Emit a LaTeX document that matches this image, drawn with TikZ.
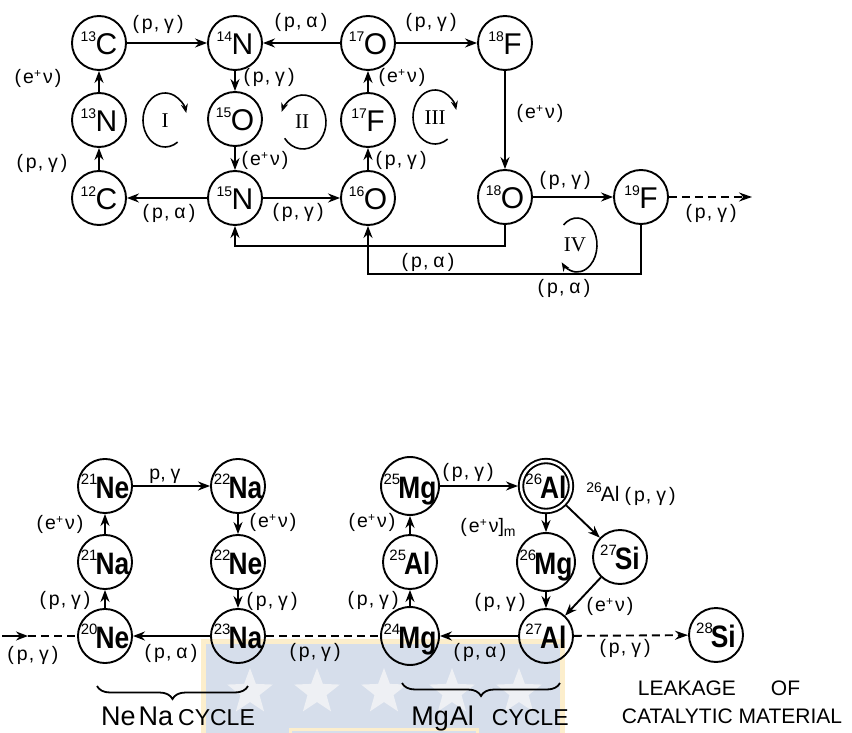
\documentclass[tikz,border=0pt]{standalone}
\usepackage{fontspec}
\setmainfont{Liberation Sans}
\newfontfamily\romfont{Liberation Serif}
\usetikzlibrary{arrows.meta,decorations.pathreplacing,shapes.geometric}
\definecolor{wmblue}{RGB}{214,222,235}
\definecolor{wmyel}{RGB}{252,238,204}
\definecolor{wmstar}{RGB}{238,240,244}
\newcommand\isoT[2]{\raisebox{13pt}{\fontsize{14}{14}\selectfont #1}\kern-0.5pt{\fontsize{30}{30}\selectfont #2}}
\newcommand\isoB[2]{\raisebox{14pt}{\fontsize{15}{15}\selectfont #1}\kern-2pt\scalebox{0.85}[1]{\fontsize{31}{31}\selectfont\bfseries #2}}
\newcommand\rPG{(\kern3pt p\kern1pt,\kern5pt γ\kern3pt)}
\newcommand\rPA{(\kern3pt p\kern1pt,\kern5pt α\kern3pt)}
\newcommand\rEN{(\kern2pt e\raisebox{6pt}{\fontsize{12}{12}\selectfont +}\kern2pt ν\kern2pt)}
\tikzset{
  nuc/.style={circle,draw,line width=1.9pt,minimum size=54pt,inner sep=0pt,text depth=0pt},
  arr/.style={line width=1.9pt,-{Stealth[length=12pt,width=9pt]}},
  dsh/.style={line width=1.9pt,dash pattern=on 8pt off 5pt},
  lab/.style={inner sep=0pt,font=\fontsize{19.5}{19.5}\selectfont},
  rom/.style={inner sep=0pt,font=\romfont\fontsize{21}{21}\selectfont},
  cyc/.style={line width=1.6pt,-{Stealth[length=9pt,width=7pt]}},
  brc/.style={line width=1.8pt,decorate,decoration={brace,amplitude=13pt,mirror}},
  big/.style={inner sep=0pt,anchor=base},
  wstar/.style={star,star points=5,star point ratio=2.4,fill=wmstar,minimum size=48pt,inner sep=0pt}
}
\begin{document}
\begin{tikzpicture}[x=1pt,y=-1pt]
\useasboundingbox (0,0) rectangle (852,733);
% watermark
\fill[wmblue] (203,641) rectangle (562,733);
\draw[wmyel,line width=5pt] (203,740) -- (203,641) -- (562,641) -- (562,740);
\draw[wmyel,line width=3pt] (290,740) -- (290,729) -- (477,729) -- (477,740);
\node[wstar] (s1) at (250,692) {};
\node[wstar] (s2) at (317,692) {};
\node[wstar] (s3) at (384,692) {};
\node[wstar] (s4) at (452,692) {};
\node[wstar] (s5) at (519,692) {};

% ---------- top: CNO cycles ----------
\node[nuc] (C13) at (99,43) {\isoT{13}{C}};
\node[nuc] (N14) at (235,43) {\isoT{14}{N}};
\node[nuc] (O17) at (368,43) {\isoT{17}{O}};
\node[nuc] (F18) at (505,43) {\isoT{18}{F}};
\node[nuc] (N13) at (99,120) {\isoT{13}{N}};
\node[nuc] (O15) at (235,119) {\isoT{15}{O}};
\node[nuc] (F17) at (368,120) {\isoT{17}{F}};
\node[nuc] (C12) at (99,198) {\isoT{12}{C}};
\node[nuc] (N15) at (235,198) {\isoT{15}{N}};
\node[nuc] (O16) at (368,198) {\isoT{16}{O}};
\node[nuc] (O18) at (505,197) {\isoT{18}{O}};
\node[nuc] (F19) at (641,197) {\isoT{19}{F}};
\coordinate (endF) at (752,197);

\draw[arr] (C13) -- (N14);
\draw[arr] (O17) -- (N14);
\draw[arr] (O17) -- (F18);
\draw[arr] (N13) -- (C13);
\draw[arr] (C12) -- (N13);
\draw[arr] (N14) -- (O15);
\draw[arr] (O15) -- (N15);
\draw[arr] (N15) -- (C12);
\draw[arr] (N15) -- (O16);
\draw[arr] (O16) -- (F17);
\draw[arr] (F17) -- (O17);
\draw[arr] (F18) -- (O18);
\draw[arr] (O18) -- (F19);
\draw[dsh,-{Stealth[length=13pt,width=9pt]}] (F19) -- (endF);
\draw[arr] (O18.south) -- ++(0,21) -| (N15.south);
\draw[arr] (F19.south) -- ++(0,49) -| (O16.south);

\node[lab] (t1) at (158,24) {\rPG};
\node[lab] (t2) at (301,22) {\rPA};
\node[lab] (t3) at (431,22) {\rPG};
\node[lab] (t4) at (38,78) {\rEN};
\node[lab] (t5) at (42,163) {\rPG};
\node[lab] (t6) at (269,77) {\rPG};
\node[lab] (t7) at (265,160) {\rEN};
\node[lab] (t8) at (169,213) {\rPA};
\node[lab] (t9) at (298,212) {\rPG};
\node[lab] (t10) at (402,77) {\rEN};
\node[lab] (t11) at (401,160) {\rPG};
\node[lab] (t12) at (540,113) {\rEN};
\node[lab] (t13) at (565,180) {\rPG};
\node[lab] (t14) at (711,213) {\rPG};
\node[lab] (t15) at (428,262) {\rPA};
\node[lab] (t16) at (564,288) {\rPA};

% cycle markers
\coordinate (cI) at (165,120);
\coordinate (cII) at (303,122);
\coordinate (cIII) at (435,117);
\coordinate (cIV) at (577,245);
\draw[cyc] ([shift={(55:22 and 27)}]cI) arc[start angle=55,end angle=345,x radius=22,y radius=27];
\draw[cyc] ([shift={(143:23 and 27)}]cII) arc[start angle=143,end angle=-158,x radius=23,y radius=27];
\draw[cyc] ([shift={(55:22 and 27)}]cIII) arc[start angle=55,end angle=345,x radius=22,y radius=27];
\draw[cyc] ([shift={(-132:20 and 27)}]cIV) arc[start angle=-132,end angle=140,x radius=20,y radius=27];
\node[rom] (rI) at (165,121) {I};
\node[rom] (rII) at (302,122) {II};
\node[rom] (rIII) at (435,118) {III};
\node[rom] (rIV) at (575,245) {IV};

% ---------- bottom: NeNa and MgAl cycles ----------
\node[nuc] (Ne21) at (105,486) {\isoB{21}{Ne}};
\node[nuc] (Na22) at (238,486) {\isoB{22}{Na}};
\node[nuc] (Na21) at (105,562) {\isoB{21}{Na}};
\node[nuc] (Ne22) at (238,562) {\isoB{22}{Ne}};
\node[nuc] (Ne20) at (105,636) {\isoB{20}{Ne}};
\node[nuc] (Na23) at (238,636) {\isoB{23}{Na}};
\node[nuc] (Mg25) at (410,486) {\isoB{25}{Mg}};
\node[nuc,double,double distance=2.5pt,minimum size=50pt,outer sep=3pt] (Al26) at (546,486) {\isoB{26}{Al}};
\node[nuc] (Al25) at (410,562) {\isoB{25}{Al}};
\node[nuc] (Mg26) at (546,562) {\isoB{26}{Mg}};
\node[nuc] (Mg24) at (410,636) {\isoB{24}{Mg}};
\node[nuc] (Al27) at (546,636) {\isoB{27}{Al}};
\node[nuc] (Si27) at (620,557) {\isoB{27}{Si}};
\node[nuc] (Si28) at (716,635) {\isoB{28}{Si}};
\coordinate (inA) at (2,636);
\coordinate (inB) at (28,636);

\draw[arr] (Ne21) -- (Na22);
\draw[arr] (Na22) -- (Ne22);
\draw[arr] (Ne22) -- (Na23);
\draw[arr] (Na23) -- (Ne20);
\draw[arr] (Ne20) -- (Na21);
\draw[arr] (Na21) -- (Ne21);
\draw[arr] (inA) -- (inB);
\draw[dsh] (inB) -- (Ne20);
\draw[dsh] (Na23) -- (Mg24);
\draw[arr] (Mg24) -- (Al25);
\draw[arr] (Al25) -- (Mg25);
\draw[arr] (Mg25) -- (Al26);
\draw[arr] (Al26) -- (Mg26);
\draw[arr] (Mg26) -- (Al27);
\draw[arr] (Al27) -- (Mg24);
\draw[arr] (Al26) -- (Si27);
\draw[arr] (Si27) -- (Al27);
\draw[dsh,-{Stealth[length=13pt,width=9pt]}] (Al27) -- (Si28);

\node[lab] (b1) at (165,476) {p,\kern5pt γ};
\node[lab] (b2) at (60,524) {\rEN};
\node[lab] (b3) at (65,600) {\rPG};
\node[lab] (b4) at (273,522) {\rEN};
\node[lab] (b5) at (272,601) {\rPG};
\node[lab] (b6) at (171,653) {\rPA};
\node[lab] (b7) at (33,655) {\rPG};
\node[lab] (b8) at (315,652) {\rPG};
\node[lab] (b9) at (468,472) {\rPG};
\node[lab] (b10) at (372,522) {\rEN};
\node[lab] (b11) at (488,527) {(\kern2pt e\raisebox{6pt}{\fontsize{12}{12}\selectfont +}\kern2pt ν]\raisebox{-4pt}{\fontsize{14}{14}\selectfont m}};
\node[lab] (b12) at (373,600) {\rPG};
\node[lab] (b13) at (500,602) {\rPG};
\node[lab] (b14) at (480,652) {\rPA};
\node[lab] (b15) at (631,494) {\raisebox{9pt}{\fontsize{14}{14}\selectfont 26}\kern-1pt{\fontsize{21}{21}\selectfont Al}\kern5pt\rPG};
\node[lab] (b16) at (610,606) {\rEN};
\node[lab] (b17) at (625,648) {\rPG};

% braces and captions
\coordinate (brA1) at (97,686);
\coordinate (brA2) at (248,686);
\coordinate (brB1) at (402,683);
\coordinate (brB2) at (560,683);
\draw[brc] (brA1) -- (brA2);
\draw[brc] (brB1) -- (brB2);
\node[big] (capA) at (178,725) {{\fontsize{27}{27}\selectfont Ne\kern3pt Na}\kern5pt{\fontsize{23}{23}\selectfont CYCLE}};
\node[big] (capB) at (490,725) {{\fontsize{27}{27}\selectfont Mg\kern1pt Al}\kern18pt{\fontsize{23}{23}\selectfont CYCLE}};
\node[big,font=\fontsize{21}{21}\selectfont] (leak1) at (719,695) {LEAKAGE\kern35pt OF};
\node[big,font=\fontsize{21}{21}\selectfont] (leak2) at (732,723) {CATALYTIC MATERIAL};
\end{tikzpicture}
\end{document}
